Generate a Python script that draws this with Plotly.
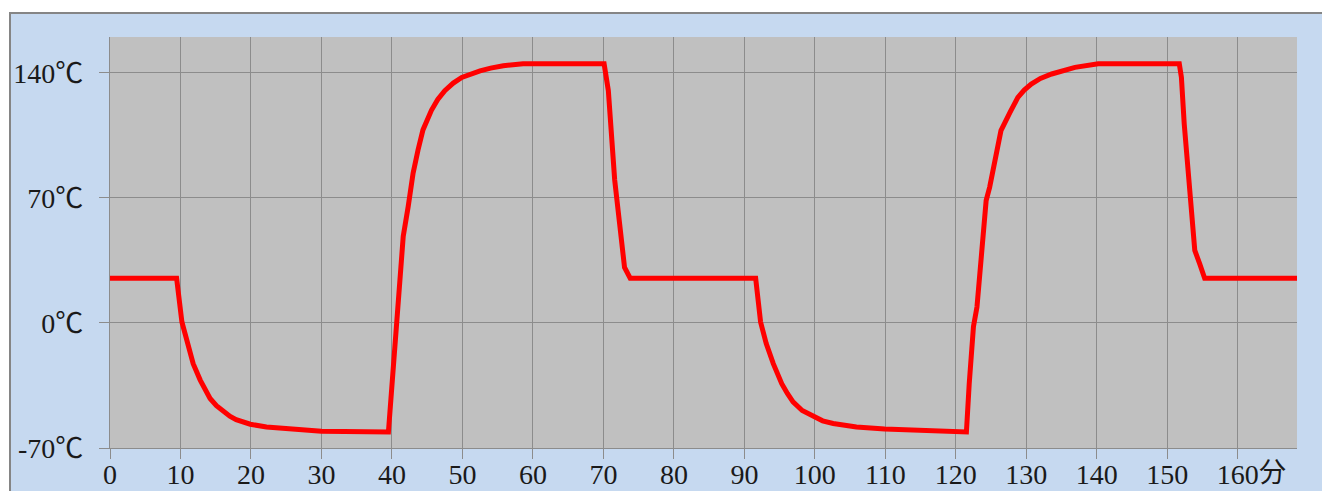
import plotly.graph_objects as go

# time in minutes
minutes = [0, 9.45,
           10.2, 10.9, 11.8, 12.8, 13.5, 14.2, 15.1, 16.1, 17.0, 17.9, 19.9, 22.2, 26, 30, 39.5,
           40.0, 40.4, 40.9, 41.6, 42.3, 43.0, 43.7, 44.4, 45.6, 46.5, 47.5, 48.7, 49.9, 51.2, 52.5, 54.0,
           55.8, 58.6, 70.1,
           70.7, 71.2, 71.6, 72.3, 73.0, 73.8, 91.6,
           92.3, 93.1, 94.1, 95.3, 96.1, 96.9, 98.2, 99.8, 101.1, 102.6, 105.9, 109.9, 115.8, 121.5,
           121.9, 122.5, 123.0, 123.6, 124.3, 124.8, 125.5, 126.4, 127.7, 128.8, 129.7, 130.7, 132.0,
           133.6, 136.9, 140.2, 151.7,
           152.0, 152.4, 152.9, 153.5, 153.9, 154.6, 155.3, 168.4]
# temperature in degrees C
temperature = [25, 25,
               0.5, -9.8, -22.8, -32, -37.5, -42.3, -46.3, -49.8, -52.2, -54.1, -56.7, -58.2, -59.7, -60.6, -61,
               -33.8, -15, 13, 48.4, 65, 83.8, 96.8, 108, 119, 125, 130, 134.2, 137.4, 139.4, 141, 142.6,
               143.9, 145, 145,
               130, 102, 80, 55.5, 31, 25, 25,
               0.5, -11.6, -22.8, -34, -39.5, -44.2, -49.0, -52.6, -54.8, -56.3, -58.2, -59.3, -60.4, -61,
               -33.8, -2, 9, 40.6, 68.5, 76, 91, 107.6, 117.9, 126.2, 130.3, 133.7, 136.8,
               139.3, 143, 145, 145,
               137.4, 111.4, 87, 63, 40.6, 33, 25, 25]

x_ticks = [0, 10, 20, 30, 40, 50, 60, 70, 80, 90, 100, 110, 120, 130, 140, 150, 160]
x_ticktext = [str(v) for v in x_ticks]
x_unit = "分"
y_ticks = [-70, 0, 70, 140]
y_values_text = ["-70", "0", "70", "140"]
y_unit = "℃"

W, H = 1322, 491
ML, MR, MT, MB = 110, 25, 37, 43
PW, PH = W - ML - MR, H - MT - MB

def px_x(px):
    return (px - ML) / PW

def px_y(py):
    return (H - MB - py) / PH

FONT = "Liberation Serif, DejaVu Serif, Noto Sans CJK JP, serif"
CJK = "Noto Sans CJK JP"
GRID = "#8c8c8c"
TXT = "#1a1a1a"

y_ticktext = [v + "<span style='font-family:" + CJK + "'>" + y_unit + "</span>"
              for v in y_values_text]

fig = go.Figure()
fig.add_trace(go.Scatter(x=minutes, y=temperature, mode="lines",
                         line=dict(color="#ff0000", width=5),
                         hoverinfo="x+y", showlegend=False))

shapes = [
    dict(type="rect", xref="paper", yref="paper", x0=-0.2, x1=1.2,
         y0=px_y(12), y1=1.3, fillcolor="white", line_width=0, layer="below"),
    dict(type="rect", xref="paper", yref="paper", x0=-0.2, x1=px_x(9),
         y0=-0.3, y1=1.3, fillcolor="white", line_width=0, layer="below"),
    dict(type="rect", xref="paper", yref="paper", x0=px_x(9), x1=1.2,
         y0=px_y(14), y1=px_y(12), fillcolor="#858585", line_width=0, layer="below"),
    dict(type="rect", xref="paper", yref="paper", x0=px_x(9), x1=px_x(11),
         y0=-0.3, y1=px_y(12), fillcolor="#858585", line_width=0, layer="below"),
]

fig.update_layout(
    template="none",
    width=W, height=H, autosize=False,
    margin=dict(l=ML, r=MR, t=MT, b=MB, pad=0),
    paper_bgcolor="#c6d9f0",
    plot_bgcolor="#c0c0c0",
    font=dict(family=FONT, size=28, color=TXT),
    shapes=shapes,
    xaxis=dict(range=[0, 168.4], tickvals=x_ticks, ticktext=x_ticktext,
               showgrid=True, gridcolor=GRID, gridwidth=1.3,
               showline=True, linecolor=GRID, linewidth=1.3,
               ticks="outside", ticklen=10, tickcolor=GRID, tickwidth=1.3,
               ticklabelstandoff=-9,
               zeroline=False, fixedrange=True, automargin=False),
    yaxis=dict(range=[-70, 160], tickvals=y_ticks, ticktext=y_ticktext,
               showgrid=True, gridcolor=GRID, gridwidth=1.3,
               showline=True, linecolor=GRID, linewidth=1.3,
               ticks="outside", ticklen=10, tickcolor=GRID, tickwidth=1.3,
               ticklabelstandoff=10,
               zeroline=False, fixedrange=True, automargin=False),
    annotations=[dict(x=160, xref="x", y=px_y(470), yref="paper",
                      text="<span style='font-family:" + CJK + "'>" + x_unit + "</span>",
                      showarrow=False, xanchor="left", yanchor="middle",
                      xshift=19, font=dict(family=FONT, size=27, color=TXT))],
)

fig.write_html("out.html", config={"displayModeBar": False},
               post_script="document.body.style.margin='0';document.body.style.overflow='hidden';")
